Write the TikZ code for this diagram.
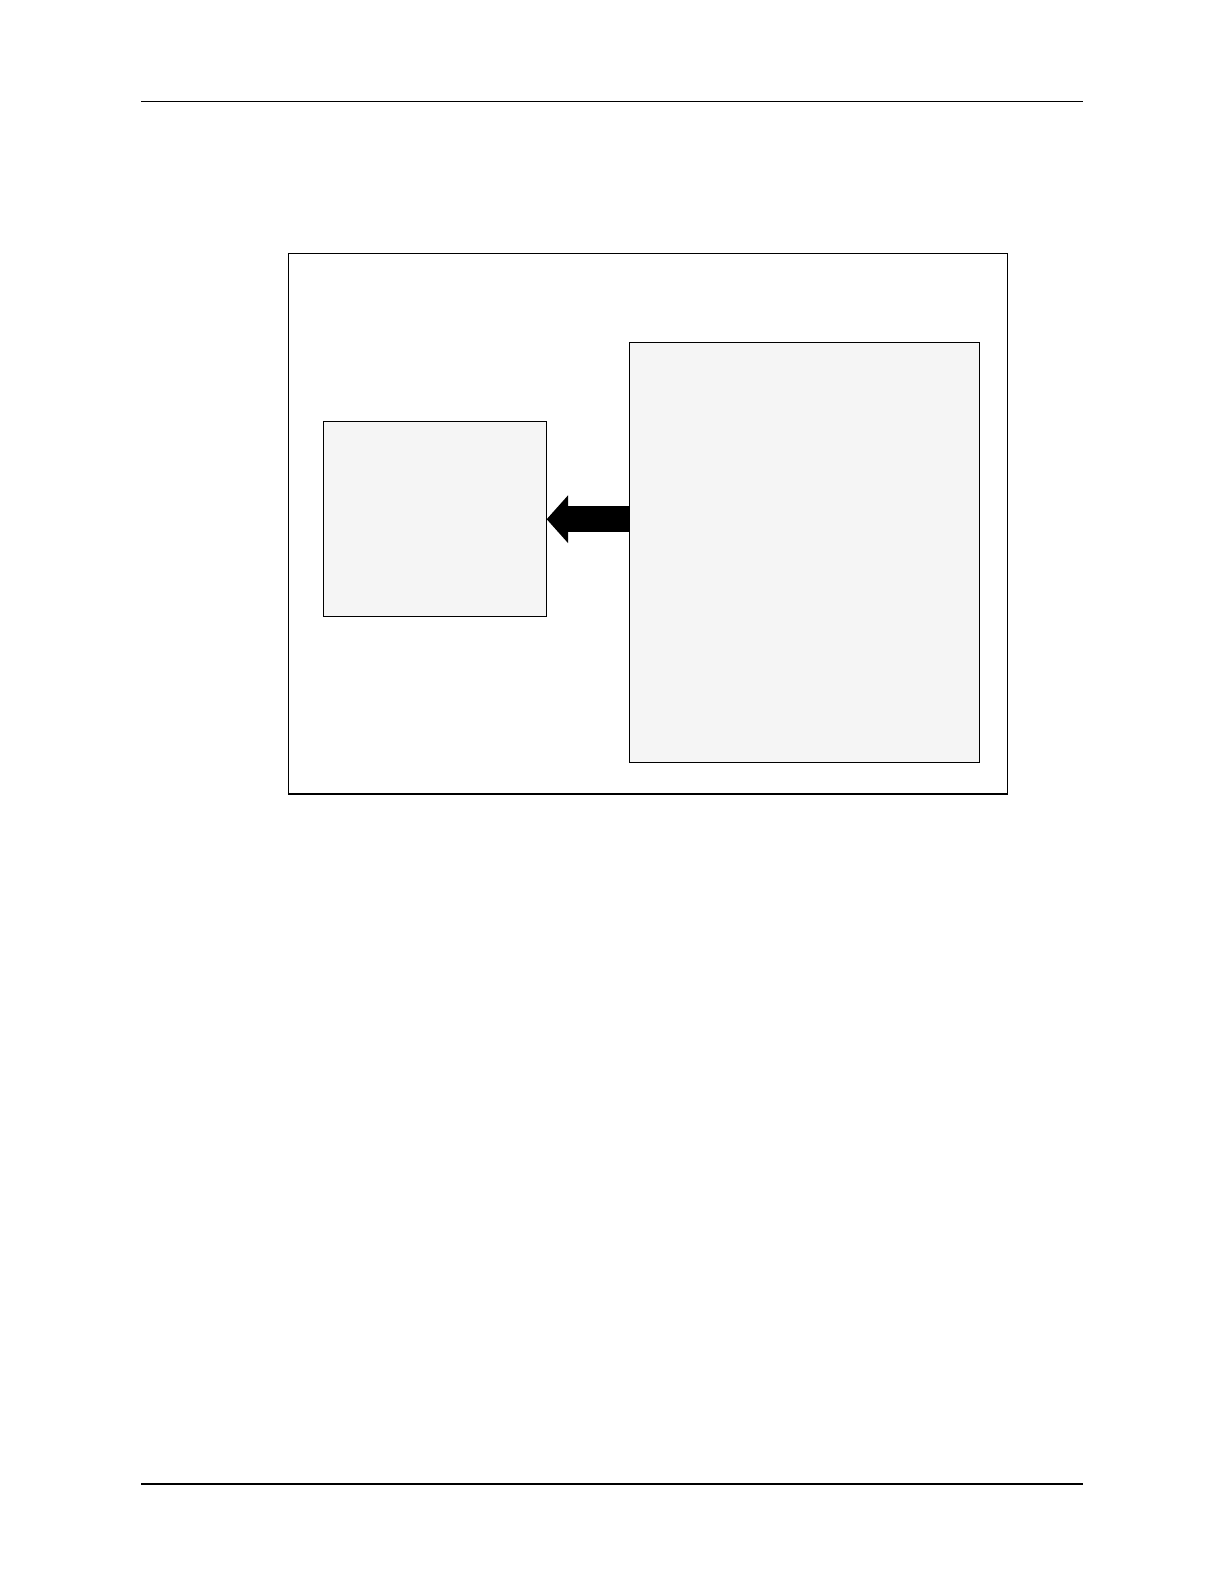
\documentclass[tikz,border=0pt]{standalone}
\usepackage{xcolor}
\usepackage{tikz}
\usetikzlibrary{arrows.meta}
\definecolor{panelgray}{HTML}{F5F5F5}
\tikzset{
 panel/.style={draw=black, line width=0.6pt, fill=panelgray, inner sep=0pt, outer sep=0pt},
 bigarrow/.style={line width=12.85pt, -{Triangle[length=10.65pt, width=23.85pt, line width=0pt]}}
}

\begin{document}
\begin{tikzpicture} [x=0.5pt, y=-0.5pt]
\useasboundingbox (0,0) rectangle (1224,1584);
\draw[black, line width=0.7pt] (141,101.3)--(1083,101.3);
\draw[black, line width=0.7pt] (141,1484)--(1083,1484);
\draw[black, line width=0.6pt] (288.3,253.3) rectangle (1007.3,794);
\node[panel, minimum width=111.7pt, minimum height=97.5pt] (lbox) at (435,519.2) {};
\node[panel, minimum width=175pt, minimum height=209.8pt] (rbox) at (804.3,552.5) {};
\draw[bigarrow] (rbox.west |- lbox.east) -- (lbox.east);
\end{tikzpicture}
\end{document}
